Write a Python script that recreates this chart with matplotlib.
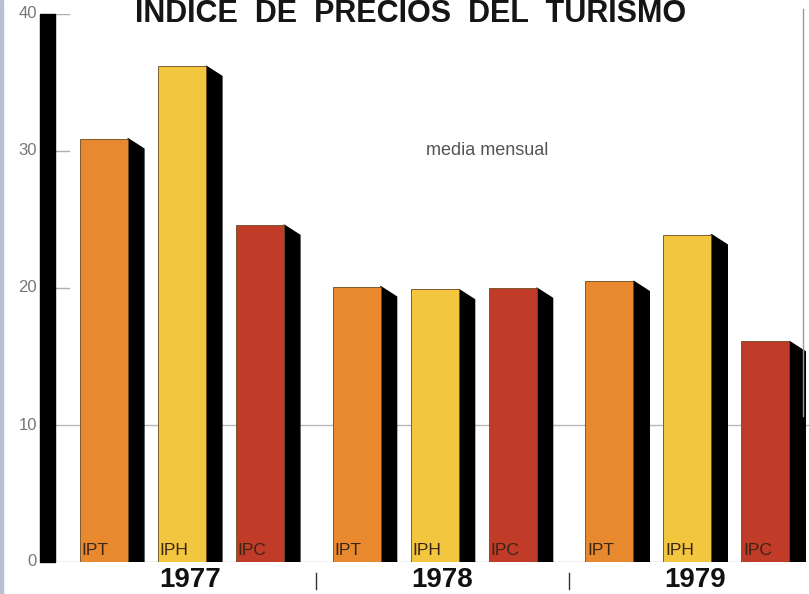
import matplotlib
matplotlib.use("Agg")
import matplotlib.pyplot as plt
from matplotlib.patches import Polygon, Rectangle
import numpy as np

years = ["1977", "1978", "1979"]
series = ["IPT", "IPH", "IPC"]
ipt = [30.9, 20.1, 20.5]
iph = [36.2, 19.9, 23.9]
ipc = [24.6, 20.0, 16.1]
yticks = [0, 10, 20, 30, 40]

colors = {"IPT": "#E8892F", "IPH": "#F3C640", "IPC": "#C03B28"}
values = {"IPT": ipt, "IPH": iph, "IPC": ipc}

fig = plt.figure(figsize=(8.09, 5.94), dpi=100)
ax = fig.add_axes([40 / 809, 32 / 594, 769 / 809, 548 / 594])
ax.set_xlim(-0.82, 9.04)
ax.set_ylim(0, 40)
ax.axis('off')

width = 0.615
depth = 0.205
slant = 0.75
gap = 3.24

# thick black wall on the left
ax.add_patch(Rectangle((-0.82, 0), 0.19, 40, color='black', zorder=3, clip_on=False))

# grid / ticks
ax.plot([-0.63, 9.04], [10, 10], color='#b8b8b8', lw=1, zorder=1)
ax.plot([-0.63, 9.04], [0, 0], color='#b8b8b8', lw=1, zorder=1)
for t in [20, 30, 40]:
    ax.plot([-0.63, -0.45], [t, t], color='#b0b0b0', lw=1, zorder=1)
for t in yticks:
    ax.text(-0.86, t, str(t), ha='right', va='center', fontsize=12,
            color='#777777', family='Liberation Sans', clip_on=False)

for g, yr in enumerate(years):
    for i, s in enumerate(series):
        xc = g * gap + i
        v = values[s][g]
        x0 = xc - width / 2
        x1 = xc + width / 2
        ax.add_patch(Rectangle((x0, 0), width, v, facecolor=colors[s],
                               edgecolor='#6a4a20', lw=0.6, zorder=4))
        side = Polygon([(x1, v), (x1 + depth, v - slant), (x1 + depth, 0), (x1, 0)],
                       closed=True, facecolor='black', edgecolor='black', zorder=3)
        ax.add_patch(side)
        ax.text(x0 + 0.02, 0.3, s, ha='left', va='bottom', fontsize=12.5,
                color='#3a2615', family='Liberation Sans', zorder=5)
    ax.text(g * gap + 1.1, -1.3, yr, ha='center', va='center', fontsize=20,
            fontweight='bold', color='#111111', family='Liberation Sans', clip_on=False)

# separators between years
for g in range(len(years) - 1):
    xs = (g * gap + 2 + width / 2 + depth + (g + 1) * gap - width / 2) / 2
    ax.plot([xs, xs], [-0.8, -2.0], color='#333333', lw=1, clip_on=False)

ax.text(4.91, 30.0, "media mensual", ha='center', va='center', fontsize=13,
        color='#555555', family='Liberation Sans')

fig.text(411 / 809, 1 - 14 / 594, "INDICE  DE  PRECIOS  DEL  TURISMO", ha='center',
         va='center', fontsize=22, fontweight='bold', color='#151515',
         family='Liberation Sans')

# page edges
fig.add_artist(plt.Line2D([803 / 809, 803 / 809], [0.3, 0.985], color='#999999', lw=1))
fig.add_artist(Rectangle((0, 0), 3 / 809, 1, color='#b8bfd0', transform=fig.transFigure))

fig.savefig("out.png", dpi=100)
